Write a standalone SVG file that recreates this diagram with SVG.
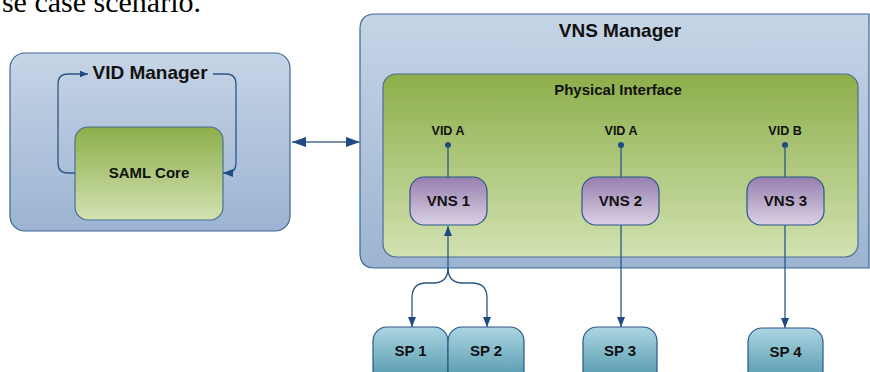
<svg xmlns="http://www.w3.org/2000/svg" width="870" height="372" viewBox="0 0 870 372">
<defs>
<linearGradient id="gBlue" x1="0" y1="0" x2="0" y2="1"><stop offset="0" stop-color="#c6d4e6"/><stop offset="1" stop-color="#9cb4d2"/></linearGradient>
<linearGradient id="gGreen" x1="0" y1="0" x2="0" y2="1"><stop offset="0" stop-color="#8dae4a"/><stop offset="1" stop-color="#d2e2b2"/></linearGradient>
<linearGradient id="gPurple" x1="0" y1="0" x2="0" y2="1"><stop offset="0" stop-color="#977fae"/><stop offset="1" stop-color="#dbd0e6"/></linearGradient>
<linearGradient id="gTeal" x1="0" y1="0" x2="0" y2="1"><stop offset="0" stop-color="#acd6e2"/><stop offset="1" stop-color="#4690a6"/></linearGradient>
<marker id="ah" viewBox="0 0 10 10" refX="10" refY="5" markerWidth="10" markerHeight="10" markerUnits="userSpaceOnUse" orient="auto"><path d="M0,1 L10,5 L0,9 Z" fill="#1f4a82"/></marker>
<marker id="ahs" viewBox="0 0 10 10" refX="10" refY="5" markerWidth="8" markerHeight="8" markerUnits="userSpaceOnUse" orient="auto"><path d="M0,1 L10,5 L0,9 Z" fill="#1f4a82"/></marker>
<marker id="ahb" viewBox="0 0 14 10" refX="14" refY="5" markerWidth="14" markerHeight="10" markerUnits="userSpaceOnUse" orient="auto"><path d="M0,0 L14,5 L0,10 Z" fill="#1f4a82"/></marker>
<marker id="ahbs" viewBox="0 0 14 10" refX="14" refY="5" markerWidth="14" markerHeight="10" markerUnits="userSpaceOnUse" orient="auto-start-reverse"><path d="M0,0 L14,5 L0,10 Z" fill="#1f4a82"/></marker>
</defs>
<style>
.t{font-family:"Liberation Sans",Arial,sans-serif;font-weight:bold;fill:#111;text-anchor:middle}
.outer{fill:url(#gBlue);stroke:#3d6796;stroke-width:1.2}
.green{fill:url(#gGreen);stroke:#4b6f92;stroke-width:1.2}
.vns{fill:url(#gPurple);stroke:#2d5588;stroke-width:1.2}
.sp{fill:url(#gTeal);stroke:#2d5588;stroke-width:1.2}
.ln{fill:none;stroke:#2a5788;stroke-width:1.3}
</style>
<text x="201" y="11.5" font-family="Liberation Serif,Times New Roman,serif" font-size="30" text-anchor="end" fill="#000">se case scenario.</text>

<g id="vid-manager">
<rect class="outer" x="10" y="53" width="280" height="178" rx="15"/>
<text class="t" x="150" y="79" font-size="19">VID Manager</text>
</g>
<g id="saml-core">
<rect class="green" x="75" y="127" width="148" height="93" rx="13"/>
<text class="t" x="149" y="178" font-size="15">SAML Core</text>
</g>

<g id="vns-manager">
<path class="outer" d="M375,14 L869,14 L869,268 L375,268 Q360,268 360,253 L360,29 Q360,14 375,14 Z"/>
<text class="t" x="620" y="37" font-size="19">VNS Manager</text>
</g>
<g id="physical-interface">
<rect class="green" x="383" y="74" width="475" height="183" rx="13"/>
<text class="t" x="618" y="95" font-size="15">Physical Interface</text>
<text class="t" x="448" y="135" font-size="12.5">VID A</text>
<text class="t" x="621" y="135" font-size="12.5">VID A</text>
<text class="t" x="785" y="135" font-size="12.5">VID B</text>
</g>
<g id="vns1">
<rect class="vns" x="410" y="177" width="77" height="48" rx="14"/>
<text class="t" x="448.5" y="206" font-size="15">VNS 1</text>
</g>
<g id="vns2">
<rect class="vns" x="582" y="177" width="77" height="48" rx="14"/>
<text class="t" x="620.5" y="206" font-size="15">VNS 2</text>
</g>
<g id="vns3">
<rect class="vns" x="747" y="177" width="77" height="48" rx="14"/>
<text class="t" x="785.5" y="206" font-size="15">VNS 3</text>
</g>
<g id="sp1">
<rect class="sp" x="373" y="327" width="75" height="60" rx="14"/>
<text class="t" x="410.5" y="356" font-size="15">SP 1</text>
</g>
<g id="sp2">
<rect class="sp" x="448" y="327" width="76" height="60" rx="14"/>
<text class="t" x="486" y="356" font-size="15">SP 2</text>
</g>
<g id="sp3">
<rect class="sp" x="583" y="327" width="74" height="60" rx="14"/>
<text class="t" x="620" y="356" font-size="15">SP 3</text>
</g>
<g id="sp4">
<rect class="sp" x="748" y="328" width="75" height="60" rx="14"/>
<text class="t" x="785.5" y="357" font-size="15">SP 4</text>
</g>

<g id="connectors">
<path class="ln" d="M75,173 L68,173 Q58,173 58,163 L58,84 Q58,74 68,74 L88,74" marker-end="url(#ahs)"/>
<path class="ln" d="M213,74 L226,74 Q236,74 236,84 L236,163 Q236,173 226,173 L223,173" marker-end="url(#ah)"/>
<line x1="292" y1="142" x2="360" y2="142" stroke="#7a90b2" stroke-width="2" marker-start="url(#ahbs)" marker-end="url(#ahb)"/>
<circle cx="448" cy="145" r="3" fill="#1f4a82"/>
<circle cx="621" cy="145" r="3" fill="#1f4a82"/>
<circle cx="785" cy="145" r="3" fill="#1f4a82"/>
<line class="ln" x1="448" y1="145" x2="448" y2="177"/>
<line class="ln" x1="621" y1="145" x2="621" y2="177"/>
<line class="ln" x1="785" y1="145" x2="785" y2="177"/>
<path class="ln" d="M448,270 L448,226" marker-end="url(#ah)"/>
<path class="ln" d="M448,268 Q448,283 433,283 L426,283 Q412,283 412,298 L412,327" marker-end="url(#ah)"/>
<path class="ln" d="M448,268 Q448,283 463,283 L472,283 Q487,283 487,298 L487,327" marker-end="url(#ah)"/>
<path class="ln" d="M621,225 L621,327" marker-end="url(#ah)"/>
<path class="ln" d="M785,225 L785,328" marker-end="url(#ah)"/>
</g>
</svg>
